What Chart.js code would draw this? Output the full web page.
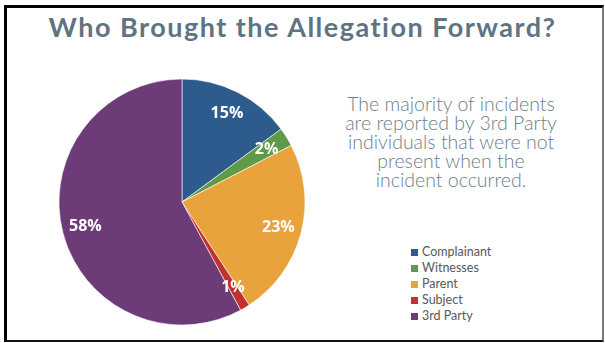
<!DOCTYPE html>
<html>
<head>
<meta charset="utf-8">
<script src="https://cdn.jsdelivr.net/npm/chart.js@4/dist/chart.umd.min.js"></script>
<style>
    html, body { margin: 0; padding: 0; background: #fff; }
    body { width: 605px; height: 343px; position: relative; overflow: hidden; }
    .frame {
        position: absolute; left: 4px; top: 5px; width: 595px; height: 332px;
        border-left: 3px solid #000; border-top: 3px solid #000;
        border-right: 2px solid #777; border-bottom: 2px solid #111;
    }
    .title {
        position: absolute; left: 0; top: 10px; width: 605px; text-align: center;
        font: 700 27px Lato, sans-serif; letter-spacing: 1.5px; color: #5e7482;
    }
    .note {
        position: absolute; left: 321px; top: 94px; width: 260px; text-align: center;
        font: 300 19.5px/19px Lato, sans-serif; color: #6c808c;
    }
    #pie { position: absolute; left: 57px; top: 77px; }
    .legend { position: absolute; left: 411px; top: 244px; font: 400 12.5px Lato, sans-serif; color: #595959; }
    .legend div { height: 16px; line-height: 16px; white-space: nowrap; }
    .legend span { display: inline-block; width: 7px; height: 7px; margin-right: 4px; vertical-align: 0px; }
</style>
</head>
<body>
<div class="frame"></div>
<div class="title">Who Brought the Allegation Forward?</div>
<div class="note">The majority of incidents<br>are reported by 3rd Party<br>individuals that were not<br>present when the<br>incident occurred.</div>
<canvas id="pie" width="250" height="250"></canvas>
<div class="legend" id="legend"></div>

<script>
// Данные
const categories = ['Complainant', 'Witnesses', 'Parent', 'Subject', '3rd Party'];
const shares = [14.9, 2.5, 23.4, 1.3, 57.9];
const shareLabels = ['15%', '2%', '23%', '1%', '58%'];
const colors = ['#2e5b8e', '#5e9a48', '#e8a33d', '#c1312f', '#6d3b78'];

// Подписи внутри секторов
const sliceLabels = {
    id: 'sliceLabels',
    afterDatasetsDraw(chart) {
        const ctx = chart.ctx;
        const meta = chart.getDatasetMeta(0);
        ctx.save();
        ctx.font = '700 16px "Open Sans", sans-serif';
        ctx.fillStyle = '#fff';
        ctx.textAlign = 'center';
        ctx.textBaseline = 'middle';
        meta.data.forEach((arc, i) => {
            const p = arc.getProps(['x', 'y', 'startAngle', 'endAngle', 'outerRadius'], true);
            const mid = (p.startAngle + p.endAngle) / 2;
            const r = p.outerRadius * 0.81;
            ctx.fillText(shareLabels[i], p.x + Math.cos(mid) * r, p.y + Math.sin(mid) * r);
        });
        ctx.restore();
    }
};

new Chart(document.getElementById('pie'), {
    type: 'pie',
    data: {
        labels: categories,
        datasets: [{
            data: shares,
            backgroundColor: colors,
            borderColor: '#fff',
            borderWidth: 0.6,
            hoverOffset: 0
        }]
    },
    options: {
        responsive: false,
        animation: false,
        events: [],
        radius: 123,
        layout: { padding: 0 },
        plugins: {
            legend: { display: false },
            tooltip: { enabled: false }
        }
    },
    plugins: [sliceLabels]
});

// Легенда
const legend = document.getElementById('legend');
categories.forEach((name, i) => {
    const row = document.createElement('div');
    row.innerHTML = `<span style="background:${colors[i]}"></span>${name}`;
    legend.appendChild(row);
});
</script>
</body>
</html>
